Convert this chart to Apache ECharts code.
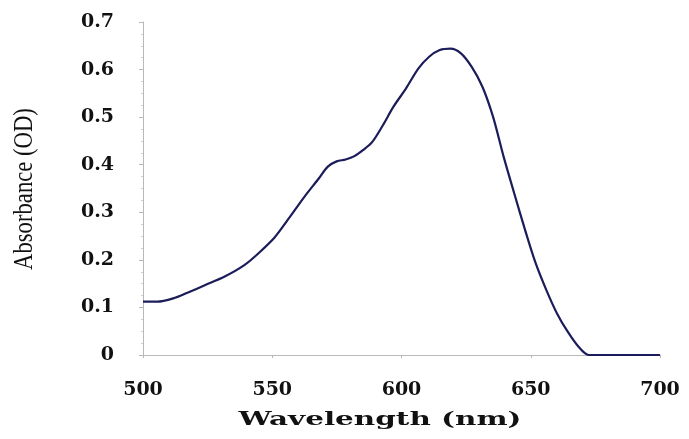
<!DOCTYPE html>
<html>
<head>
<meta charset="utf-8">
<script src="https://cdn.jsdelivr.net/npm/echarts@6/dist/echarts.min.js"></script>
<style>
  html, body { margin: 0; padding: 0; background: #fff; }
  #main { width: 689px; height: 439px; }
</style>
</head>
<body>
<div id="main"></div>
<script>
// wavelength (nm) and absorbance
var wavelength = [500, 505.5, 511.7, 517.2, 524.1, 531.6, 539.2, 544.7, 550.9, 556.4, 562.5, 568, 571.5, 574.9, 578.4, 581.8, 585.2, 588.7, 592.8, 596.9, 601.7, 606.5, 610.7, 614.8, 618.9, 623, 627.1, 631.3, 635.4, 639.5, 643.6, 647.8, 651.9, 656, 660.1, 664.3, 668.4, 672.5, 680, 690, 700];
var absorbance = [0.112, 0.112, 0.119, 0.131, 0.147, 0.165, 0.189, 0.214, 0.247, 0.287, 0.333, 0.371, 0.396, 0.407, 0.411, 0.418, 0.431, 0.448, 0.483, 0.522, 0.560, 0.602, 0.627, 0.641, 0.644, 0.634, 0.606, 0.564, 0.501, 0.417, 0.340, 0.263, 0.193, 0.137, 0.088, 0.049, 0.018, 0, 0, 0, 0];
var xTicks = [500, 550, 600, 650, 700];
var yTicks = [0, 0.1, 0.2, 0.3, 0.4, 0.5, 0.6, 0.7];
var xTitle = 'Wavelength (nm)';
var yTitle = 'Absorbance (OD)';

var pts = [];
for (var i = 0; i < wavelength.length; i++) {
    pts.push([wavelength[i], absorbance[i]]);
}

var serif = "'Liberation Serif', 'DejaVu Serif', serif";
var wide = "'DejaVu Serif', serif";
var chart = echarts.init(document.getElementById('main'));
chart.setOption({
    animation: false,
    grid: { left: 143, right: 29, top: 22, bottom: 84 },
    xAxis: {
        type: 'value',
        min: xTicks[0], max: xTicks[xTicks.length - 1], interval: 50,
        axisLine: { lineStyle: { color: '#b8b8b8', width: 1 } },
        axisTick: { show: true, length: 3, lineStyle: { color: '#b8b8b8' } },
        splitLine: { show: false },
        axisLabel: { fontFamily: wide, fontWeight: 'bold', fontSize: 19, color: '#111', margin: 26 }
    },
    yAxis: {
        type: 'value',
        min: yTicks[0], max: yTicks[yTicks.length - 1], interval: 0.1,
        axisLine: { show: true, lineStyle: { color: '#b8b8b8', width: 1 } },
        axisTick: { show: true, length: 4, lineStyle: { color: '#b8b8b8' } },
        minorTick: { show: true, splitNumber: 4, length: 2, lineStyle: { color: '#d0d0d0' } },
        splitLine: { show: false },
        axisLabel: { fontFamily: wide, fontWeight: 'bold', fontSize: 19, color: '#111', margin: 29 }
    },
    // axis titles: the originals are stretched, so draw them as scaled text
    graphic: [{
        type: 'text',
        x: 380, y: 420,
        scaleX: 1.55,
        style: {
            text: xTitle, fontFamily: wide, fontWeight: 'bold', fontSize: 19,
            fill: '#111', align: 'center', verticalAlign: 'middle'
        }
    }, {
        type: 'text',
        x: 25, y: 189,
        rotation: Math.PI / 2,
        scaleX: 0.81,
        style: {
            text: yTitle, fontFamily: serif, fontSize: 28,
            fill: '#111', align: 'center', verticalAlign: 'middle'
        }
    }],
    series: [{
        type: 'line',
        data: pts,
        smooth: 0.3,
        showSymbol: false,
        lineStyle: { color: '#1c1c5a', width: 2.2 }
    }]
});
</script>
</body>
</html>
